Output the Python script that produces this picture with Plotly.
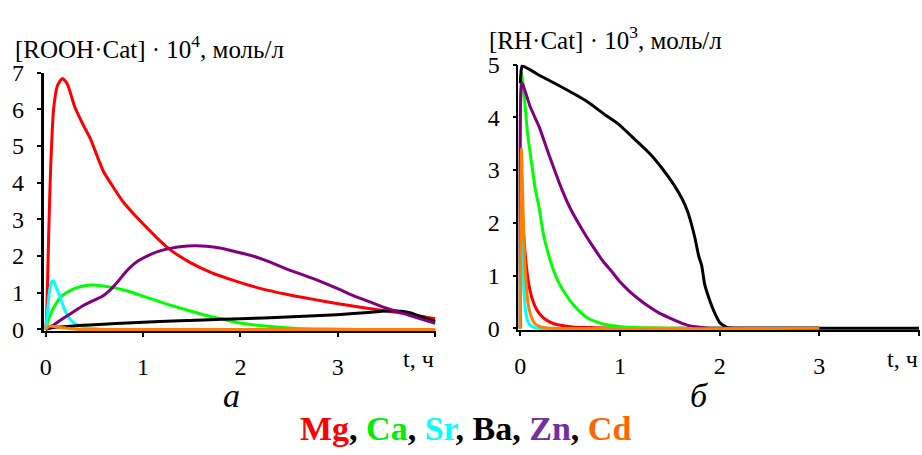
import plotly.graph_objects as go

# ---------- data: panel a  ([ROOH·Cat]·10^4, mol/L) ----------
mg_a_t = [0, 0.01, 0.03, 0.05, 0.08, 0.12, 0.17, 0.22, 0.3, 0.38, 0.46, 0.59, 0.7, 0.8, 0.92, 1.04, 1.16, 1.28, 1.48, 1.7, 1.96, 2.2, 2.47, 2.75, 2.99, 3.25, 3.5, 3.75, 4.0]
mg_a_v = [0, 0.45, 2.6, 4.4, 6.0, 6.65, 6.84, 6.7, 6.05, 5.6, 5.19, 4.32, 3.85, 3.46, 3.1, 2.77, 2.45, 2.17, 1.83, 1.55, 1.31, 1.12, 0.96, 0.82, 0.71, 0.60, 0.50, 0.41, 0.29]

ca_a_t = [0, 0.02, 0.05, 0.1, 0.15, 0.2, 0.25, 0.32, 0.4, 0.46, 0.55, 0.7, 0.82, 0.94, 1.1, 1.28, 1.45, 1.62, 1.8, 1.96, 2.15, 2.3, 2.5, 2.65, 2.9, 3.2, 4.0]
ca_a_v = [0, 0.2, 0.42, 0.68, 0.88, 0.98, 1.06, 1.14, 1.19, 1.21, 1.20, 1.14, 1.06, 0.96, 0.82, 0.66, 0.53, 0.40, 0.29, 0.19, 0.12, 0.08, 0.04, 0.02, 0.01, 0.0, 0.0]

sr_a_t = [0, 0.015, 0.03, 0.045, 0.06, 0.07, 0.085, 0.1, 0.13, 0.16, 0.18, 0.21, 0.25, 0.3, 0.36, 0.45, 0.6, 4.0]
sr_a_v = [0, 0.4, 0.85, 1.15, 1.3, 1.33, 1.3, 1.2, 1.0, 0.78, 0.63, 0.45, 0.28, 0.16, 0.09, 0.03, 0.0, 0.0]

ba_a_t = [0, 0.05, 0.15, 0.25, 0.5, 0.94, 1.3, 1.62, 2.0, 2.3, 2.65, 2.99, 3.2, 3.43, 3.55, 3.67, 3.76, 3.84, 3.92, 4.0]
ba_a_v = [0, 0.04, 0.07, 0.09, 0.13, 0.19, 0.23, 0.26, 0.29, 0.32, 0.36, 0.40, 0.44, 0.49, 0.51, 0.49, 0.44, 0.36, 0.29, 0.22]

zn_a_t = [0, 0.08, 0.15, 0.25, 0.39, 0.46, 0.59, 0.66, 0.73, 0.8, 0.87, 0.95, 1.04, 1.15, 1.28, 1.4, 1.52, 1.65, 1.79, 1.95, 2.13, 2.3, 2.47, 2.65, 2.82, 3.0, 3.16, 3.33, 3.5, 3.75, 4.0]
zn_a_v = [0, 0.12, 0.25, 0.42, 0.66, 0.75, 0.92, 1.07, 1.27, 1.50, 1.70, 1.87, 2.00, 2.12, 2.21, 2.26, 2.28, 2.27, 2.22, 2.12, 2.00, 1.84, 1.65, 1.48, 1.31, 1.11, 0.92, 0.75, 0.58, 0.37, 0.17]

cd_a_t = [0, 0.03, 0.08, 0.15, 0.25, 0.35, 4.0]
cd_a_v = [0, 0.09, 0.08, 0.05, 0.02, 0.0, 0.0]

# ---------- data: panel б  ([RH·Cat]·10^3, mol/L) ----------
mg_b_t = [0, 0.015, 0.03, 0.045, 0.06, 0.08, 0.1, 0.13, 0.16, 0.2, 0.25, 0.33, 0.42, 0.55, 0.75, 1.0, 3.0]
mg_b_v = [0, 2.3, 1.9, 1.5, 1.2, 0.9, 0.7, 0.5, 0.37, 0.26, 0.17, 0.09, 0.05, 0.02, 0.01, 0.0, 0.0]

ca_b_t = [0, 0.01, 0.03, 0.05, 0.07, 0.09, 0.12, 0.15, 0.19, 0.23, 0.28, 0.33, 0.39, 0.46, 0.53, 0.6, 0.67, 0.75, 0.85, 1.0, 1.2, 1.5, 3.0]
ca_b_v = [0, 4.85, 4.6, 4.2, 3.75, 3.45, 3.05, 2.65, 2.28, 1.8, 1.42, 1.12, 0.85, 0.63, 0.45, 0.31, 0.2, 0.13, 0.07, 0.03, 0.01, 0.0, 0.0]

sr_b_t = [0, 0.01, 0.02, 0.03, 0.04, 0.05, 0.065, 0.08, 0.1, 0.13, 0.18, 3.0]
sr_b_v = [0, 2.0, 1.5, 1.0, 0.62, 0.38, 0.2, 0.11, 0.06, 0.02, 0.0, 0.0]

ba_b_t = [0, 0.01, 0.02, 0.2, 0.42, 0.67, 0.85, 0.98, 1.15, 1.3, 1.42, 1.52, 1.59, 1.65, 1.69, 1.75, 1.79, 1.82, 1.85, 1.9, 1.95, 2.0, 2.04, 2.08, 2.15, 4.0]
ba_b_v = [4.65, 4.9, 4.98, 4.79, 4.57, 4.30, 4.05, 3.88, 3.58, 3.31, 3.04, 2.78, 2.57, 2.35, 2.15, 1.73, 1.37, 1.19, 0.83, 0.53, 0.29, 0.11, 0.05, 0.01, 0.0, 0.0]

zn_b_t = [0, 0.015, 0.1, 0.19, 0.29, 0.42, 0.5, 0.59, 0.67, 0.75, 0.83, 0.92, 1.0, 1.09, 1.19, 1.29, 1.39, 1.49, 1.6, 1.69, 1.8, 1.92, 2.1, 3.0]
zn_b_v = [0, 4.66, 4.2, 3.82, 3.28, 2.62, 2.28, 1.97, 1.72, 1.49, 1.27, 1.07, 0.88, 0.71, 0.55, 0.41, 0.29, 0.20, 0.11, 0.05, 0.02, 0.0, 0.0, 0.0]

cd_b_t = [0, 0.012, 0.02, 0.03, 0.04, 0.05, 0.065, 0.08, 0.1, 0.12, 0.15, 0.2, 0.3, 3.0]
cd_b_v = [0, 3.4, 2.9, 2.1, 1.5, 1.1, 0.7, 0.45, 0.28, 0.17, 0.08, 0.03, 0.0, 0.0]

names = ["Mg", "Ca", "Sr", "Ba", "Zn", "Cd"]
line_colors = ["#FF0000", "#00FF00", "#00FFFF", "#000000", "#800080", "#FF8000"]
legend_colors = ["#FF0000", "#00EE00", "#00FFFF", "#000000", "#7030A0", "#FF6600"]

x_ticks = [0, 1, 2, 3]
x_ticktext = ["0", "1", "2", "3"]
x_end_tick = [4]
ya_ticks = [0, 1, 2, 3, 4, 5, 6, 7]
yb_ticks = [0, 1, 2, 3, 4, 5]

panel_a = [(mg_a_t, mg_a_v), (ca_a_t, ca_a_v), (sr_a_t, sr_a_v), (ba_a_t, ba_a_v), (zn_a_t, zn_a_v), (cd_a_t, cd_a_v)]
panel_b = [(mg_b_t, mg_b_v), (ca_b_t, ca_b_v), (sr_b_t, sr_b_v), (ba_b_t, ba_b_v), (zn_b_t, zn_b_v), (cd_b_t, cd_b_v)]

FONT = "Liberation Serif"
W, H = 922, 455

fig = go.Figure()
for (t, v), name, col in zip(panel_a, names, line_colors):
    fig.add_trace(go.Scatter(x=t, y=v, mode="lines", name=name, xaxis="x", yaxis="y",
                             line=dict(color=col, width=3, shape="spline", smoothing=0.6),
                             showlegend=False, hoverinfo="skip"))
for (t, v), name, col in zip(panel_b, names, line_colors):
    fig.add_trace(go.Scatter(x=t, y=v, mode="lines", name=name, xaxis="x2", yaxis="y2",
                             line=dict(color=col, width=3, shape="spline", smoothing=0.4),
                             showlegend=False, hoverinfo="skip"))

tickfont = dict(family=FONT, size=24, color="black")
common_x = dict(tickvals=x_ticks, ticktext=x_ticktext, ticks="outside", ticklen=4, tickwidth=1.5,
                tickcolor="black", showline=True, linecolor="black", linewidth=1.5,
                minor=dict(tickvals=x_end_tick, ticks="outside", ticklen=4, tickwidth=1.5, tickcolor="black"),
                showgrid=False, zeroline=False, tickfont=tickfont, ticklabelstandoff=9, fixedrange=True)
common_y = dict(ticks="outside", ticklen=4, tickwidth=1.5, tickcolor="black", showline=True,
                linecolor="black", showgrid=False, zeroline=False, tickfont=tickfont,
                ticklabelstandoff=8, fixedrange=True)

fig.update_layout(
    width=W, height=H, autosize=False,
    margin=dict(l=0, r=0, t=0, b=0),
    paper_bgcolor="white", plot_bgcolor="white",
    xaxis=dict(domain=[40 / W, 434 / W], range=[-0.02, 4.01], anchor="y", **common_x),
    yaxis=dict(domain=[1 - 336 / H, 1 - 63 / H], range=[-0.05, 7], tickvals=ya_ticks,
               anchor="x", linewidth=3, **common_y),
    xaxis2=dict(domain=[516.5 / W, 920 / W], range=[-0.02, 4.01], anchor="y2", **common_x),
    yaxis2=dict(domain=[1 - 335 / H, 1 - 54.5 / H], range=[-0.04, 5], tickvals=yb_ticks,
                anchor="x2", linewidth=1.5, **common_y),
)

ann = []
ann.append(dict(text="[ROOH·Cat] · 10<sup>4</sup>, моль/л", xref="paper", yref="paper",
                x=9 / W, y=1 - 36 / H, xanchor="left", yanchor="middle", showarrow=False,
                font=dict(family=FONT, size=25, color="black")))
ann.append(dict(text="[RH·Cat] · 10<sup>3</sup>, моль/л", xref="paper", yref="paper",
                x=485 / W, y=1 - 26 / H, xanchor="left", yanchor="middle", showarrow=False,
                font=dict(family=FONT, size=25, color="black")))
for xr in ["x", "x2"]:
    ann.append(dict(text="t, ч", xref=xr, yref="paper", x=4.01, y=1 - 365 / H,
                    xanchor="right", yanchor="middle", showarrow=False,
                    font=dict(family=FONT, size=24, color="black")))
ann.append(dict(text="<i>а</i>", xref="paper", yref="paper", x=228 / W, y=1 - 404 / H,
                xanchor="center", yanchor="middle", showarrow=False,
                font=dict(family=FONT, size=34, color="black")))
ann.append(dict(text="<i>б</i>", xref="paper", yref="paper", x=699 / W, y=1 - 404 / H,
                xanchor="center", yanchor="middle", showarrow=False,
                font=dict(family=FONT, size=34, color="black")))
legend_text = ", ".join(f"<span style='color:{c}'>{n}</span>" for n, c in zip(names, legend_colors))
ann.append(dict(text="<b>" + legend_text + "</b>", xref="paper", yref="paper", x=464 / W, y=1 - 439 / H,
                xanchor="center", yanchor="middle", showarrow=False,
                font=dict(family=FONT, size=34, color="black")))
fig.update_layout(annotations=ann)

fig.write_html("out.html", config={"displayModeBar": False})
